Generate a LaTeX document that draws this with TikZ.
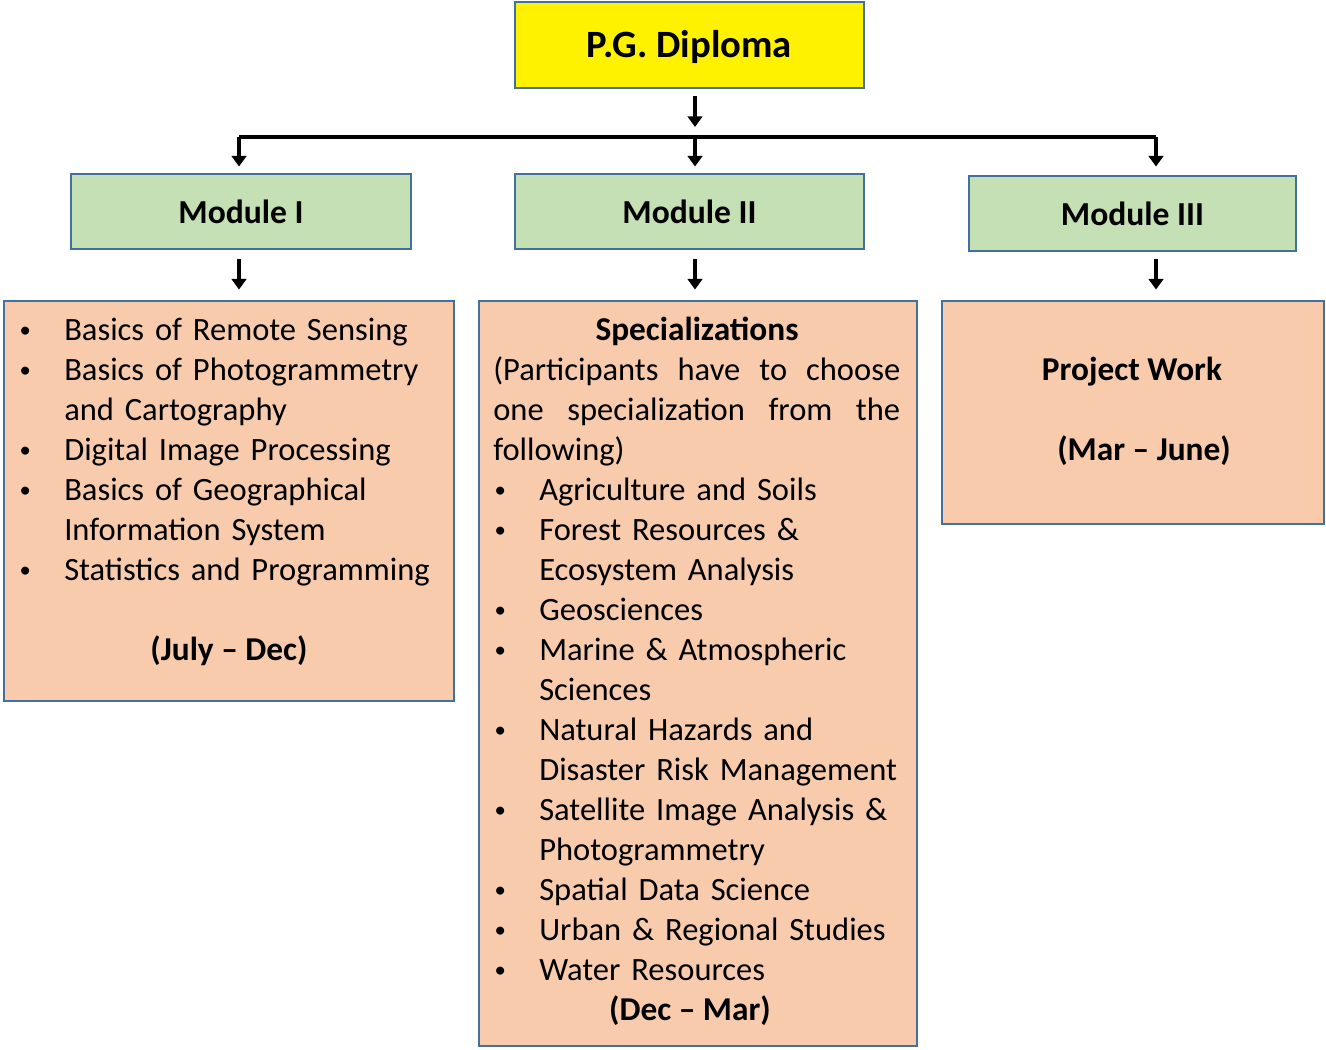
\documentclass[tikz,border=0pt]{standalone}
\usepackage{fontspec}
\setmainfont{Carlito}
\usetikzlibrary{positioning, arrows.meta}

\definecolor{boxline}{HTML}{41719C}
\definecolor{modgreen}{HTML}{C5E0B4}
\definecolor{peach}{HTML}{F8CBAD}

\newcommand{\itm}{\makebox[34.5pt][l]{\hspace{1pt}\raisebox{2.2pt}{\fontsize{17}{17}\selectfont\textbullet}}}
\newcommand{\hng}{\hspace*{34.5pt}}

\begin{document}
\begin{tikzpicture}[x=0.75pt, y=-0.75pt,
    box/.style={draw=boxline, line width=2.2pt, inner sep=0pt},
    txt/.style={inner sep=0pt, font=\fontsize{24.4}{30}\selectfont},
    bld/.style={inner sep=0pt, anchor=base, font=\fontsize{25}{30}\selectfont\bfseries},
    lst/.style={txt, anchor=base west, align=left},
    arr/.style={-{Triangle[length=8pt, width=11pt]}, line width=3pt}]
    \useasboundingbox (0,0) rectangle (1326,1049);

    % boxes
    \node[box, fill=yellow, minimum width=261.75pt, minimum height=64.5pt] (pg) at (689.5, 45) {};
    \node[box, fill=modgreen, minimum width=255pt, minimum height=56.25pt] (m1) at (241, 211.5) {};
    \node[box, fill=modgreen, minimum width=261.75pt, minimum height=56.25pt] (m2) at (689.5, 211.5) {};
    \node[box, fill=modgreen, minimum width=245.25pt, minimum height=56.25pt] (m3) at (1132.5, 213.5) {};
    \node[box, fill=peach, minimum width=337.5pt, minimum height=300pt] (b1) at (229, 501) {};
    \node[box, fill=peach, minimum width=328.5pt, minimum height=558.75pt] (b2) at (698, 673.5) {};
    \node[box, fill=peach, minimum width=286.5pt, minimum height=167.25pt] (b3) at (1133, 412.5) {};

    % titles
    \node[inner sep=0pt, font=\fontsize{29}{34}\selectfont\bfseries] (pgt) at (689.5, 47) {P.G. Diploma};
    \node[inner sep=0pt, font=\fontsize{25.2}{30}\selectfont\bfseries] (m1t) at (m1) {Module I};
    \node[inner sep=0pt, font=\fontsize{25.2}{30}\selectfont\bfseries] (m2t) at (m2) {Module II};
    \node[inner sep=0pt, font=\fontsize{25.2}{30}\selectfont\bfseries] (m3t) at (m3) {Module III};

    % module I
    \node[lst, text width=320pt] (l1) at (18, 340) {%
        \itm Basics of Remote Sensing\\
        \itm Basics of Photogrammetry\\
        \hng and Cartography\\
        \itm Digital Image Processing\\
        \itm Basics of Geographical\\
        \hng Information System\\
        \itm Statistics and Programming};
    \node[bld] (d1) at (229, 660) {(July -- Dec)};

    % module II
    \node[bld] (sp) at (697, 340) {Specializations};
    \node[lst, text width=305.25pt] (par) at (493, 380) {%
        \makebox[305.25pt][l]{(Participants\hfill have\hfill to\hfill choose}\\
        \makebox[305.25pt][l]{one\hfill specialization\hfill from\hfill the}\\
        following)};
    \node[lst, text width=310pt] (l2) at (493, 500) {%
        \itm Agriculture and Soils\\
        \itm Forest Resources \&\\
        \hng Ecosystem Analysis\\
        \itm Geosciences\\
        \itm Marine \& Atmospheric\\
        \hng Sciences\\
        \itm Natural Hazards and\\
        \hng Disaster Risk Management\\
        \itm Satellite Image Analysis \&\\
        \hng Photogrammetry\\
        \itm Spatial Data Science\\
        \itm Urban \& Regional Studies\\
        \itm Water Resources};
    \node[bld] (d2) at (690, 1020) {(Dec -- Mar)};

    % module III
    \node[bld] (pw) at (1132, 380) {Project Work};
    \node[bld] (d3) at (1144, 460) {(Mar -- June)};

    % connectors
    \coordinate (barL) at (239, 137);
    \coordinate (barM) at (695, 137);
    \coordinate (barR) at (1156, 137);
    \draw[line width=3pt] (barL) -- (barR);
    \draw[arr, shorten <=5pt, shorten >=7.5pt] (barM |- pg.south) -- (barM);
    \draw[arr, shorten >=4.5pt] (barL) -- (barL |- m1.north);
    \draw[arr, shorten >=4.5pt] (barM) -- (barM |- m2.north);
    \draw[arr, shorten >=6pt] (barR) -- (barR |- m3.north);
    \draw[arr, shorten <=6.75pt, shorten >=7.5pt] (barL |- m1.south) -- (barL |- b1.north);
    \draw[arr, shorten <=6.75pt, shorten >=7.5pt] (barM |- m2.south) -- (barM |- b2.north);
    \draw[arr, shorten <=5.25pt, shorten >=7.5pt] (barR |- m3.south) -- (barR |- b3.north);
\end{tikzpicture}
\end{document}
